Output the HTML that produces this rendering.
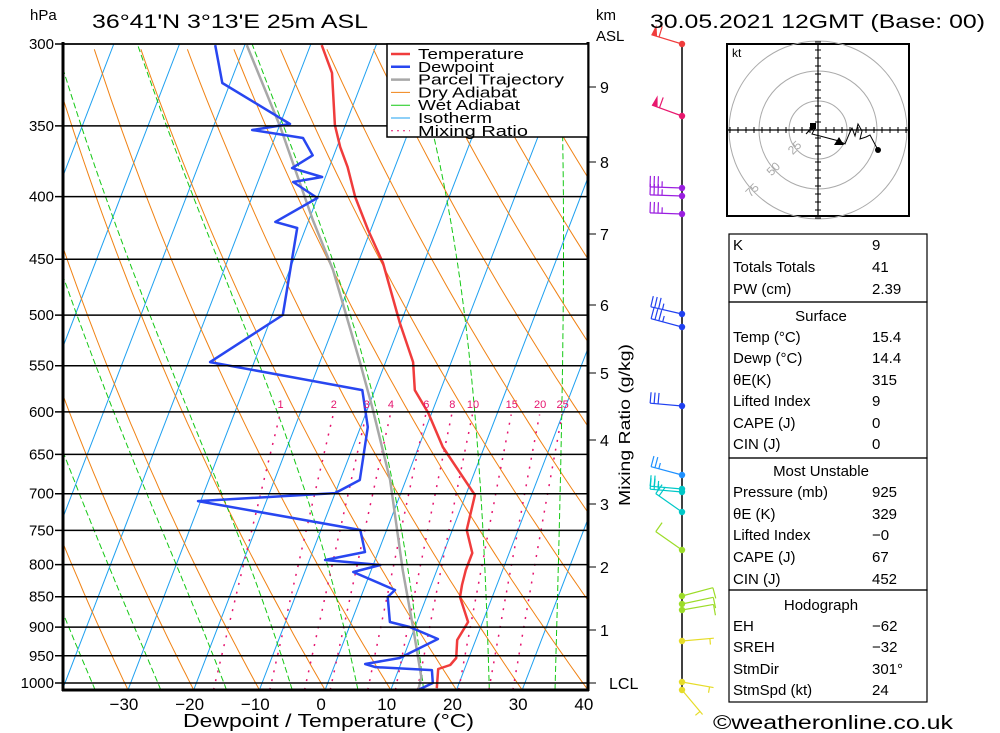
<!DOCTYPE html>
<html><head><meta charset="utf-8"><style>
html,body{margin:0;padding:0;background:#fff;}
svg{display:block;font-family:"Liberation Sans",sans-serif;}
</style></head><body>
<svg id="chart" width="1000" height="733" viewBox="0 0 1000 733" xmlns="http://www.w3.org/2000/svg">
<defs><clipPath id="plotclip"><rect x="63" y="44" width="525" height="646"/></clipPath></defs>
<g id="grid" clip-path="url(#plotclip)"></g>
<g id="profiles" clip-path="url(#plotclip)"></g>
<g id="axes"></g>
<g id="legend"></g>
<g id="winds"></g>
<g id="hodo"></g>
<g id="table"></g>
<text x="30" y="20" font-size="15">hPa</text>
<text x="92" y="28" font-size="19" textLength="276" lengthAdjust="spacingAndGlyphs">36°41'N  3°13'E  25m  ASL</text>
<text x="596" y="20" font-size="15">km</text>
<text x="596" y="41" font-size="15">ASL</text>
<text x="650" y="28" font-size="19" textLength="335" lengthAdjust="spacingAndGlyphs">30.05.2021 12GMT (Base: 00)</text>
<text x="183" y="727" font-size="18" textLength="291" lengthAdjust="spacingAndGlyphs">Dewpoint / Temperature (°C)</text>
<text x="0" y="0" font-size="16" text-anchor="middle" textLength="162" lengthAdjust="spacingAndGlyphs" transform="translate(630,425) rotate(-90)">Mixing Ratio (g/kg)</text>
<text x="713" y="729" font-size="19" textLength="240" lengthAdjust="spacingAndGlyphs">©weatheronline.co.uk</text>
</svg>
<script>
// ---- data ----
const pressureLevels=[300,350,400,450,500,550,600,650,700,750,800,850,900,950,1000];
const tempTicks=[-30,-20,-10,0,10,20,30,40];
const tempP=[300.6,316.8,349.5,364.3,378.3,400.2,425.9,453.2,507.6,546.3,575.9,601.3,641.1,701.8,749.6,782.8,808.3,831.4,850.4,891.4,922.2,954.0,966.7,974.0,1009.6];
const tempT=[-38.3,-35.1,-31.6,-29.5,-27.2,-24.3,-20.4,-16.2,-10.1,-5.8,-3.9,-0.5,3.7,11.4,12.2,14.4,14.4,14.7,15.1,17.8,17.2,18.1,17.6,16.0,16.9];
const dewP=[300.6,322.9,348.8,352.8,358.1,370.0,379.0,385.4,389.1,401.0,419.5,424.3,499.9,546.3,575.9,617.4,682.2,699.2,709.8,749.6,781.3,793.2,800.7,811.3,839.3,850.4,891.4,899.9,920.5,954.0,964.9,970.4,975.9,1000,1013];
const dewT=[-54.5,-51.2,-38.5,-43.9,-35.7,-33.2,-35.6,-30.5,-34.6,-30.0,-35.0,-31.3,-28.4,-36.7,-11.9,-8.9,-7.0,-10.0,-30.4,-4.0,-2.0,-7.6,1.1,-2.6,4.8,4.1,5.9,9.2,14.2,9.5,4.6,6.3,15.1,16.0,14.2];
const parcelP=[300.6,350.8,417.9,459.2,547.3,594.6,682.2,808.3,899.9,988.7,1013];
const parcelT=[-49.7,-39.8,-29.4,-23.4,-13.8,-9.4,-2.4,4.8,9.7,13.9,14.2];
const mixRatios=[1,2,3,4,6,8,10,15,20,25];
const kmHeights=[9,8,7,6,5,4,3,2,1];
const kmY=[87,162,234,305,373,440,504,567,630];
const windY=[44,116,188,196,214,314,327,406,475,489,492,512,550,596,604,610,641,682,690];
const windDir=[287,290,272,272,272,283,285,275,285,275,275,305,305,75,78,80,85,100,140];
const windSpd=[60,60,35,35,35,35,35,30,25,25,25,20,10,10,10,10,5,5,5];
const windCol=["#f03c3c","#e8186e","#9a1ee0","#9a1ee0","#9a1ee0","#2040f0","#2040f0","#2040f0","#1e90ff","#00c8c8","#00c8c8","#00c8c8","#9cdc28","#9cdc28","#9cdc28","#9cdc28","#e6dc28","#e6dc28","#e6dc28"];
const hodoX=[813,806,810,815,812,820,839,845,850,852,855,858,862,860,866,870,878];
const hodoY=[126,134,130,128,134,136,141,144,132,128,136,124,131,139,137,135,150];

// ---- axis functions ----
const NS="http://www.w3.org/2000/svg";
const LN=Math.log(1000/300);
function yP(p){return 44+Math.log(p/300)/LN*639;}
function xT(T,p){return 325+6.57*T+(690-yP(p))*0.385;}
function mk(tag,attrs,parent){const e=document.createElementNS(NS,tag);for(const k in attrs)e.setAttribute(k,attrs[k]);parent.appendChild(e);return e;}
function poly(pts){return pts.map(q=>q[0].toFixed(1)+","+q[1].toFixed(1)).join(" ");}
const grid=document.getElementById('grid'),prof=document.getElementById('profiles'),axes=document.getElementById('axes');
const PB=1013;

for(let T=-120;T<=40;T+=10){
  const l=mk('line',{x1:xT(T,PB),y1:690,x2:xT(T,300),y2:44,stroke:'#1ea0f0','stroke-width':1},grid);
  
  
}
for(let T0=-60;T0<=130;T0+=10){
  const pts=[];for(let p=PB;p>=295;p-=10){const T=(T0+273.15)*Math.pow(p/PB,0.286)-273.15;pts.push([xT(T,p),yP(p)]);}
  const l=mk('polyline',{points:poly(pts),fill:'none',stroke:'#f08214','stroke-width':1},grid);
  
  
}
function es(T){return 6.112*Math.exp(17.67*T/(T+243.5));}
for(let T0=-35;T0<=45;T0+=10){
  let T=T0;const pts=[];
  for(let p=PB;p>=295;p-=2){
    pts.push([xT(T,p),yP(p)]);
    const Tk=T+273.15,e=es(T),rs=0.622*e/(p-e);
    const dTdp=(287*Tk+2.5e6*rs)/(p*(1004+2.5e6*2.5e6*rs*0.622/(287*Tk*Tk)));
    T-=dTdp*2;
  }
  const l=mk('polyline',{points:poly(pts),fill:'none',stroke:'#14c814','stroke-width':1,'stroke-dasharray':'6,3'},grid);
  
  
}
mixRatios.forEach(w=>{
  const pts=[];for(let p=PB;p>=600;p-=5){const e=w*p/(622+w),a=Math.log(e/6.112);const Td=243.5*a/(17.67-a);pts.push([xT(Td,p),yP(p)]);}
  const l=mk('polyline',{points:poly(pts),fill:'none',stroke:'#e6146e','stroke-width':1.5,'stroke-dasharray':'2,7'},grid);
  
  
  const e=w*600/(622+w),a=Math.log(e/6.112);const Td=243.5*a/(17.67-a);
  const t=mk('text',{x:xT(Td,600),y:408,'font-size':11,fill:'#e6146e','text-anchor':'middle'},axes);
  t.textContent=w;
  
  
});
pressureLevels.forEach(p=>{
  const y=yP(p);
  const l=mk('line',{x1:55,y1:y,x2:588,y2:y,stroke:'#000','stroke-width':1.5},axes);
  
  
  const t=mk('text',{x:54,y:y+5,'font-size':15,'text-anchor':'end'},axes);
  t.textContent=p;
  
  
});
function drawProf(P,T,col,name){
  const l=mk('polyline',{points:poly(P.map((p,i)=>[xT(T[i],p),yP(p)])),fill:'none',stroke:col,'stroke-width':2.5,'stroke-linejoin':'round'},prof);
  
  
}
drawProf(parcelP,parcelT,'#a8a8a8','parcel-trajectory-line');
drawProf(tempP,tempT,'#f03c3c','temperature-line');
drawProf(dewP,dewT,'#2846f0','dewpoint-line');
mk('line',{x1:63,y1:42,x2:63,y2:691,stroke:'#000','stroke-width':3},axes);
mk('line',{x1:62,y1:690,x2:589,y2:690,stroke:'#000','stroke-width':3},axes);
mk('line',{x1:588,y1:42,x2:588,y2:691,stroke:'#000','stroke-width':3},axes);
mk('line',{x1:63,y1:44,x2:588,y2:44,stroke:'#000','stroke-width':1.5},axes);
tempTicks.forEach(T=>{
  const t=mk('text',{x:xT(T,PB)-4,y:710,'font-size':17,'text-anchor':'middle'},axes);
  t.textContent=T<0?'\u2212'+(-T):T;
  
  
});
kmHeights.forEach((k,i)=>{
  mk('line',{x1:588,y1:kmY[i],x2:596,y2:kmY[i],stroke:'#000','stroke-width':1},axes);
  const t=mk('text',{x:600,y:kmY[i]+6,'font-size':16},axes);
  t.textContent=k;
  
  
});
mk('line',{x1:588,y1:683,x2:596,y2:683,stroke:'#000','stroke-width':1},axes);
{const t=mk('text',{x:609,y:689,'font-size':16},axes);t.textContent='LCL';

}

const lg=document.getElementById('legend');
mk('rect',{x:387,y:44,width:201,height:93,fill:'#fff',stroke:'#000','stroke-width':1.5},lg);
const legNames=["Temperature","Dewpoint","Parcel Trajectory","Dry Adiabat","Wet Adiabat","Isotherm","Mixing Ratio"];
const legLen=[106,76,146,99,102,74,110];
const legCols=['#f03c3c','#2846f0','#a8a8a8','#f08214','#14c814','#1ea0f0','#e6146e'];
legNames.forEach((n,i)=>{
  const y=54+i*12.8;
  const l=mk('line',{x1:391,y1:y,x2:410,y2:y,stroke:legCols[i],'stroke-width':i<3?2.5:1},lg);
  if(i==6)l.setAttribute('stroke-dasharray','2,4');
  
  
  const t=mk('text',{x:418,y:y+5,'font-size':14.5,textLength:legLen[i],lengthAdjust:'spacingAndGlyphs'},lg);
  t.textContent=n;
  
  
});

const wg=document.getElementById('winds');
mk('line',{x1:682,y1:44,x2:682,y2:690,stroke:'#000','stroke-width':1.5},wg);
windY.forEach((y,i)=>{
  const d=windDir[i]*Math.PI/180,ux=Math.sin(d),uy=-Math.cos(d),px=-uy,py=ux,c=windCol[i];
  const L=32,x0=682,x1=x0+ux*L,y1=y+uy*L;
  const g=mk('g',{},wg);
  
  
  mk('line',{x1:x0,y1:y,x2:x1,y2:y1,stroke:c,'stroke-width':1.2},g);
  let s=windSpd[i],pos=0;
  while(s>=50){const ax=x1-ux*pos,ay=y1-uy*pos;mk('polygon',{points:poly([[ax,ay],[ax+px*11-ux*2,ay+py*11-uy*2],[ax-ux*6,ay-uy*6]]),fill:c},g);pos+=8;s-=50;}
  while(s>=10){const ax=x1-ux*pos,ay=y1-uy*pos;mk('line',{x1:ax,y1:ay,x2:ax+px*11,y2:ay+py*11,stroke:c,'stroke-width':1.2},g);pos+=4;s-=10;}
  if(s>=5){if(pos==0)pos=4;const ax=x1-ux*pos,ay=y1-uy*pos;mk('line',{x1:ax,y1:ay,x2:ax+px*6,y2:ay+py*6,stroke:c,'stroke-width':1.2},g);}
  mk('circle',{cx:x0,cy:y,r:3.2,fill:c},g);
});

const hg=document.getElementById('hodo');
mk('rect',{x:727,y:44,width:182,height:172,fill:'#fff',stroke:'#000','stroke-width':2},hg);
const hx=818,hy=130;
[29,59,89].forEach((r,i)=>{
  mk('circle',{cx:hx,cy:hy,r:r,fill:'none',stroke:'#aaa','stroke-width':1},hg);
  const a=Math.PI*0.75,tx=hx+Math.cos(a)*r,ty=hy+Math.sin(a)*r;
  const t=mk('text',{x:tx,y:ty,'font-size':12,fill:'#aaa','text-anchor':'middle',transform:`rotate(-45 ${tx} ${ty})`},hg);
  t.textContent=[25,50,75][i];
  
  
});
mk('line',{x1:727,y1:hy,x2:909,y2:hy,stroke:'#000','stroke-width':1.2},hg);
mk('line',{x1:hx,y1:44,x2:hx,y2:216,stroke:'#000','stroke-width':1.2},hg);
for(let k=-11;k<=11;k++){if(!k)continue;mk('line',{x1:hx+k*8,y1:hy-3,x2:hx+k*8,y2:hy+3,stroke:'#000'},hg);mk('line',{x1:hx-3,y1:hy+k*8,x2:hx+3,y2:hy+k*8,stroke:'#000'},hg);}
{const t=mk('text',{x:732,y:57,'font-size':12},hg);t.textContent='kt';

}
{const l=mk('polyline',{points:poly(hodoX.map((x,i)=>[x,hodoY[i]])),fill:'none',stroke:'#000','stroke-width':1},hg);

}
mk('rect',{x:hodoX[0]-3,y:hodoY[0]-3,width:6,height:6,fill:'#000'},hg);
mk('polygon',{points:poly([[hodoX[6]-5,hodoY[6]+4],[hodoX[6]+5,hodoY[6]+4],[hodoX[6],hodoY[6]-4]]),fill:'#000'},hg);
mk('circle',{cx:hodoX[hodoX.length-1],cy:hodoY[hodoY.length-1],r:3,fill:'#000'},hg);

const tg=document.getElementById('table');
const boxes=[[234,302],[302,458],[458,590],[590,702]];
boxes.forEach(b=>mk('rect',{x:729,y:b[0],width:198,height:b[1]-b[0],fill:'none',stroke:'#000','stroke-width':1.2},tg));
const rows=[["K","9",250],["Totals Totals","41",272],["PW (cm)","2.39",294],
["Temp (°C)","15.4",342],["Dewp (°C)","14.4",363],["θE(K)","315",385],["Lifted Index","9",406],["CAPE (J)","0",428],["CIN (J)","0",449],
["Pressure (mb)","925",497],["θE (K)","329",519],["Lifted Index","\u22120",540],["CAPE (J)","67",562],["CIN (J)","452",584],
["EH","\u221262",631],["SREH","\u221232",652],["StmDir","301°",674],["StmSpd (kt)","24",695]];
rows.forEach(r=>{
  const a=mk('text',{x:733,y:r[2],'font-size':15},tg);a.textContent=r[0];
  
  
  const b=mk('text',{x:872,y:r[2],'font-size':15},tg);b.textContent=r[1];
  
  
});
[["Surface",321],["Most Unstable",476],["Hodograph",610]].forEach(h=>{
  const t=mk('text',{x:821,y:h[1],'font-size':15,'text-anchor':'middle'},tg);t.textContent=h[0];
  
  
});
</script>
</body></html>
